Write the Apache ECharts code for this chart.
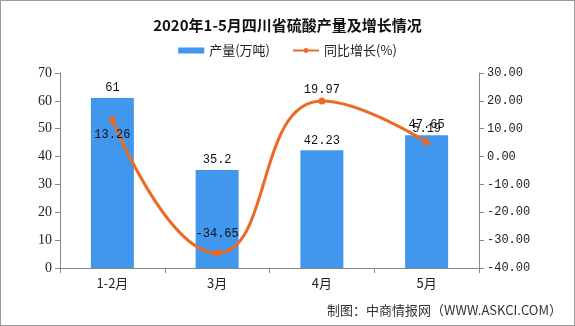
<!DOCTYPE html>
<html>
<head>
<meta charset="utf-8">
<script src="https://cdn.jsdelivr.net/npm/echarts@6/dist/echarts.min.js"></script>
<style>
  html, body { margin: 0; padding: 0; background: #fff; }
  #chart { width: 575px; height: 326px; box-sizing: border-box; border: 1px solid #9a9a9a; }
</style>
</head>
<body>
<div id="chart"></div>
<script>
// Monthly sulfuric acid output in Sichuan, Jan–May 2020
const categories = ['1-2月', '3月', '4月', '5月'];
const output = [61, 35.2, 42.23, 47.65];          // 产量(万吨)
const growth = [13.26, -34.65, 19.97, 5.19];      // 同比增长(%)
const leftTicks = { min: 0, max: 70, interval: 10 };
const rightTicks = { min: -40, max: 30, interval: 10 };

const cjk = '"Noto Sans CJK SC", sans-serif';
const chart = echarts.init(document.getElementById('chart'), null, { renderer: 'canvas' });

chart.setOption({
  animation: false,
  title: {
    text: '2020年1-5月四川省硫酸产量及增长情况',
    left: 'center',
    top: 12,
    textStyle: { fontFamily: cjk, fontSize: 15, fontWeight: 'bold', color: '#111' }
  },
  legend: {
    top: 38,
    left: 'center',
    itemGap: 22,
    itemWidth: 26,
    itemHeight: 6,
    textStyle: { fontFamily: cjk, fontSize: 13, color: '#222' },
    data: [
      { name: '产量(万吨)', icon: 'rect' },
      { name: '同比增长(%)' }
    ]
  },
  grid: { left: 59, right: 95, top: 72, bottom: 57 },
  xAxis: {
    type: 'category',
    data: categories,
    axisLine: { lineStyle: { color: '#888' } },
    axisTick: { show: true, length: 5, lineStyle: { color: '#888' } },
    axisLabel: { fontFamily: cjk, fontSize: 13, color: '#222', margin: 9 }
  },
  yAxis: [
    {
      type: 'value',
      min: leftTicks.min, max: leftTicks.max, interval: leftTicks.interval,
      axisLine: { show: true, lineStyle: { color: '#888' } },
      axisTick: { show: true, length: 5, lineStyle: { color: '#888' } },
      splitLine: { show: false },
      axisLabel: { fontFamily: '"Liberation Serif", serif', fontSize: 14, color: '#222', margin: 8 }
    },
    {
      type: 'value',
      min: rightTicks.min, max: rightTicks.max, interval: rightTicks.interval,
      position: 'right',
      axisLine: { show: true, lineStyle: { color: '#888' } },
      axisTick: { show: true, length: 5, lineStyle: { color: '#888' } },
      splitLine: { show: false },
      axisLabel: {
        fontFamily: '"Liberation Mono", monospace', fontSize: 12, color: '#222', margin: 8,
        formatter: v => v.toFixed(2)
      }
    }
  ],
  series: [
    {
      name: '产量(万吨)',
      type: 'bar',
      yAxisIndex: 0,
      data: output,
      barWidth: 43,
      itemStyle: { color: '#4197ee' },
      label: {
        show: true, position: 'top', distance: 4,
        fontFamily: '"Liberation Mono", monospace', fontSize: 12, color: '#111'
      }
    },
    {
      name: '同比增长(%)',
      type: 'line',
      yAxisIndex: 1,
      data: growth.map((v, i) => ({
        value: v,
        label: { position: ['bottom', 'top', 'top', 'top'][i], distance: [6, 10, 2, 4][i] }
      })),
      smooth: 0.5,
      symbol: 'circle',
      symbolSize: 7,
      lineStyle: { color: '#ed6a25', width: 3 },
      itemStyle: { color: '#ed6a25' },
      label: {
        show: true,
        fontFamily: '"Liberation Mono", monospace', fontSize: 12, color: '#111'
      },
      z: 5
    }
  ],
  graphic: [
    {
      type: 'text',
      right: 12,
      bottom: 8,
      style: {
        text: '制图：中商情报网（WWW.ASKCI.COM）',
        font: '13px ' + cjk,
        fill: '#333'
      }
    }
  ]
});
</script>
</body>
</html>
